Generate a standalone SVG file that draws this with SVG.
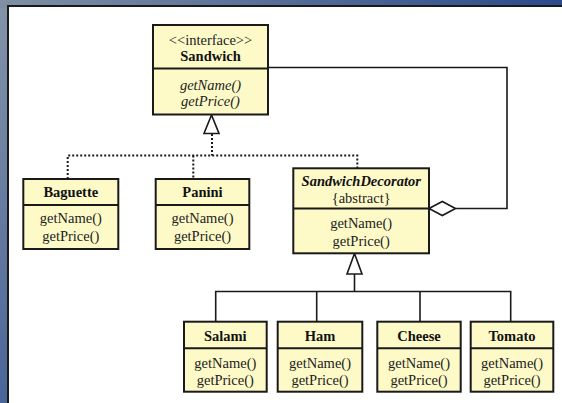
<svg xmlns="http://www.w3.org/2000/svg" width="562" height="403" viewBox="0 0 562 403">
<defs>
<linearGradient id="bg" x1="0" y1="0" x2="1" y2="1">
<stop offset="0" stop-color="#8494a8"/>
<stop offset="0.5" stop-color="#4a6698"/>
<stop offset="1" stop-color="#2c4c8e"/>
</linearGradient>
<linearGradient id="bgtop" x1="0" y1="0" x2="1" y2="0">
<stop offset="0" stop-color="#7f8fa4"/>
<stop offset="1" stop-color="#2c4b8c"/>
</linearGradient>
</defs>
<style>
.box{fill:#fdfac8;stroke:#1a1a1a;stroke-width:2}
.div{stroke:#1a1a1a;stroke-width:2}
text{font-family:'Liberation Serif','Times New Roman',Tinos,'DejaVu Serif','Noto Serif',serif;font-size:14.5px;text-anchor:middle;fill:#222}
.b{font-weight:bold;fill:#111}
.i{font-style:italic}
.ln{fill:none;stroke:#1a1a1a;stroke-width:1.6}
.dot{fill:none;stroke:#1a1a1a;stroke-width:2;stroke-dasharray:2 2}
.hd{fill:#fff;stroke:#1a1a1a;stroke-width:1.6}
</style>
<rect x="0" y="0" width="562" height="403" fill="url(#bg)"/>
<rect x="0" y="0" width="562" height="8" fill="url(#bgtop)"/>
<rect x="8" y="6" width="560" height="410" fill="#fff" stroke="#1a1a1a" stroke-width="2"/>

<g id="connectors">
<polyline class="ln" points="268,67.5 507,67.5 507,208.5 455.5,208.5"/>
<polygon class="hd" points="429,208.5 442.3,201.5 455.5,208.5 442.3,215.5"/>
<polyline class="dot" points="212,134 212,155.5"/>
<polyline class="dot" points="67.7,179 67.7,155.5 357.3,155.5 357.3,168"/>
<polyline class="dot" points="193.3,155.5 193.3,179"/>
<polygon class="hd" points="211.5,115 204,133.5 219,133.5"/>
<polyline class="ln" points="354.5,274 354.5,291.5"/>
<polyline class="ln" points="215.7,321.7 215.7,291.5 510.7,291.5 510.7,321.7"/>
<line class="ln" x1="316.7" y1="291.5" x2="316.7" y2="321.7"/>
<line class="ln" x1="420" y1="291.5" x2="420" y2="321.7"/>
<polygon class="hd" points="354.5,253.5 347,274 362,274"/>
</g>

<g id="sandwich">
<rect class="box" x="153" y="25" width="115" height="89.5"/>
<line class="div" x1="153" y1="68.5" x2="268" y2="68.5"/>
<text x="210.5" y="45">&lt;&lt;interface&gt;&gt;</text>
<text class="b" x="210.5" y="61">Sandwich</text>
<text class="i" x="210.5" y="90">getName()</text>
<text class="i" x="210.5" y="106">getPrice()</text>
</g>

<g id="baguette">
<rect class="box" x="23.3" y="179" width="95" height="70"/>
<line class="div" x1="23.3" y1="205" x2="118.3" y2="205"/>
<text class="b" x="70.8" y="197">Baguette</text>
<text x="70.8" y="223">getName()</text>
<text x="70.8" y="241">getPrice()</text>
</g>

<g id="panini">
<rect class="box" x="155.7" y="179" width="93.6" height="70"/>
<line class="div" x1="155.7" y1="205" x2="249.3" y2="205"/>
<text class="b" x="202.5" y="197">Panini</text>
<text x="202.5" y="223">getName()</text>
<text x="202.5" y="241">getPrice()</text>
</g>

<g id="decorator">
<rect class="box" x="293.3" y="168.3" width="135.7" height="85"/>
<line class="div" x1="293.3" y1="208.5" x2="429" y2="208.5"/>
<text class="b i" x="361.2" y="185.5">SandwichDecorator</text>
<text x="361.2" y="203">{abstract}</text>
<text x="361.2" y="228">getName()</text>
<text x="361.2" y="245.5">getPrice()</text>
</g>

<g id="salami">
<rect class="box" x="184" y="321.7" width="82.7" height="70"/>
<line class="div" x1="184" y1="348.3" x2="266.7" y2="348.3"/>
<text class="b" x="225.3" y="340.5">Salami</text>
<text x="225.3" y="367.5">getName()</text>
<text x="225.3" y="384.5">getPrice()</text>
</g>

<g id="ham">
<rect class="box" x="277.7" y="321.7" width="84.6" height="70"/>
<line class="div" x1="277.7" y1="348.3" x2="362.3" y2="348.3"/>
<text class="b" x="320" y="340.5">Ham</text>
<text x="320" y="367.5">getName()</text>
<text x="320" y="384.5">getPrice()</text>
</g>

<g id="cheese">
<rect class="box" x="377.3" y="321.7" width="83.4" height="70"/>
<line class="div" x1="377.3" y1="348.3" x2="460.7" y2="348.3"/>
<text class="b" x="419" y="340.5">Cheese</text>
<text x="419" y="367.5">getName()</text>
<text x="419" y="384.5">getPrice()</text>
</g>

<g id="tomato">
<rect class="box" x="470.7" y="321.7" width="82.6" height="70"/>
<line class="div" x1="470.7" y1="348.3" x2="553.3" y2="348.3"/>
<text class="b" x="512" y="340.5">Tomato</text>
<text x="512" y="367.5">getName()</text>
<text x="512" y="384.5">getPrice()</text>
</g>
</svg>
